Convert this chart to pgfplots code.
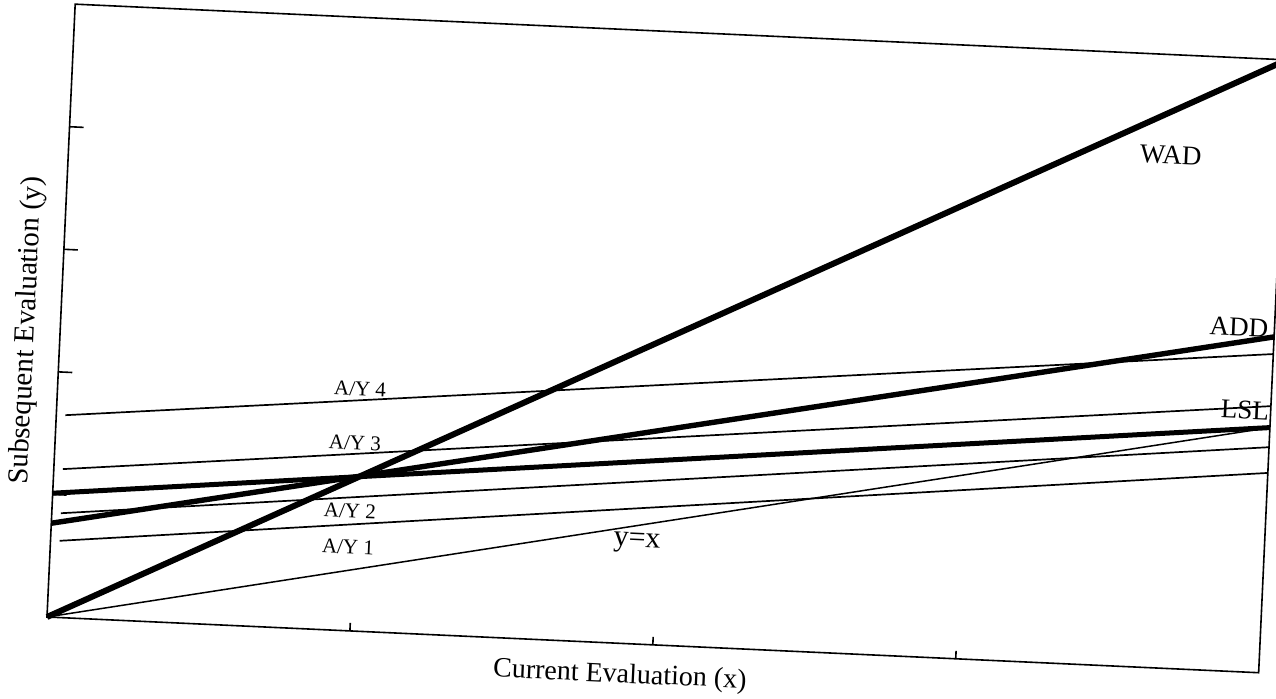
\documentclass[border=0pt]{standalone}
\usepackage{fontspec}
\setmainfont{Liberation Serif}
\usepackage{pgfplots}
\pgfplotsset{compat=1.18}
\begin{document}
\begin{tikzpicture}
\useasboundingbox (0,0) rectangle (638pt,349.5pt);
\begin{scope}[transform canvas={rotate around={-2.634:(23.5pt,41pt)}}]
\begin{axis}[
  at={(23.5pt,41pt)}, anchor=south west,
  scale only axis, width=606.5pt, height=306.75pt,
  xmin=0, xmax=4, ymin=0, ymax=10,
  xtick={1,2,3}, ytick={2,4,6,8},
  xticklabels={}, yticklabels={},
  tick pos=left, tick align=inside,
  major tick length=7pt,
  xtick style={/pgfplots/major tick length=4pt},
  axis line style={line width=0.8pt},
  tick style={black, line width=0.8pt},
  clip=false,
]
% thin A/Y lines
\addplot[black, line width=0.85pt] coordinates {(0.03,3.30) (4,5.20)};
\addplot[black, line width=0.85pt] coordinates {(0.03,2.42) (4,4.35)};
\addplot[black, line width=0.85pt] coordinates {(0.03,1.70) (4,3.68)};
\addplot[black, line width=0.85pt] coordinates {(0.03,1.25) (4,3.26)};
% y = x
\addplot[black, line width=0.75pt] coordinates {(0,0) (4,4)};
% thick model lines
\addplot[black, line width=2.5pt] coordinates {(0,2.02) (4,4.0)};
\addplot[black, line width=2.7pt] coordinates {(0,1.53) (4,5.48)};
\addplot[black, line width=3pt] coordinates {(0,0) (4,10)};
% labels
\node at (axis cs:3.632,8.365) {\fontsize{13.5}{16}\selectfont WAD};
\node at (axis cs:3.883,5.615) {\fontsize{13.5}{16}\selectfont ADD};
\node at (axis cs:3.915,4.269) {\fontsize{13.5}{16}\selectfont LSL};
\node at (axis cs:0.997,3.946) {\fontsize{10.5}{12}\selectfont A/Y 4};
\node at (axis cs:0.988,3.064) {\fontsize{10.5}{12}\selectfont A/Y 3};
\node at (axis cs:0.982,1.953) {\fontsize{10.5}{12}\selectfont A/Y 2};
\node at (axis cs:0.981,1.365) {\fontsize{10.5}{12}\selectfont A/Y 1};
\node at (axis cs:1.932,1.647) {\fontsize{15}{17}\selectfont y=x};
\node[rotate=90] at (axis cs:-0.108,4.652) {\fontsize{14.5}{17}\selectfont Subsequent Evaluation (y)};
\node at (axis cs:1.896,-0.53) {\fontsize{14}{17}\selectfont Current Evaluation (x)};
\end{axis}
\end{scope}
\end{tikzpicture}
\end{document}
